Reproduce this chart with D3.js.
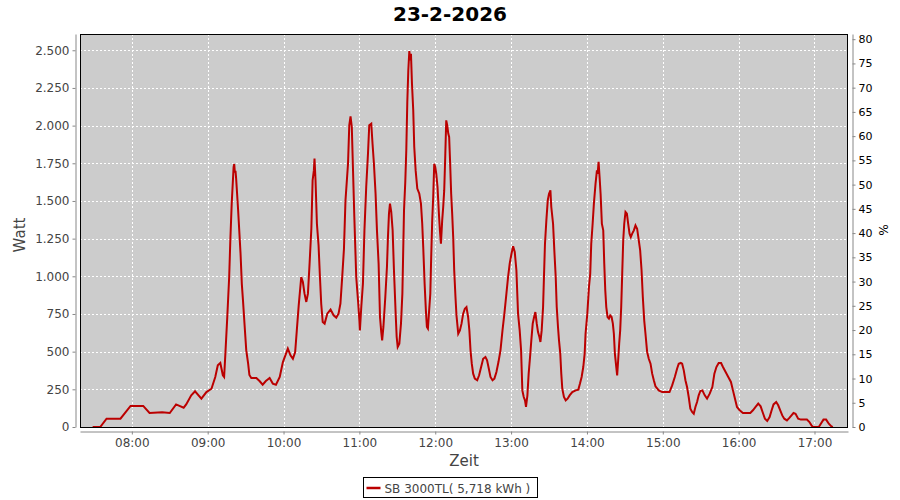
<!DOCTYPE html>
<html>
<head>
<meta charset="utf-8">
<script src="https://cdn.jsdelivr.net/npm/d3@7"></script>
<style>
  body { margin: 0; background: #fff; }
  svg { display: block; font-family: "DejaVu Sans", sans-serif; }
</style>
</head>
<body>
<svg id="chart" width="900" height="500"></svg>
<script>
// ---------- data ----------

const chartTitle = "23-2-2026";
const seriesName = "SB 3000TL( 5,718 kWh )";

// readings (time of day, watt)
const times = [
  "07:29:00", "07:35:00", "07:40:00", "07:51:00", "07:59:00", "08:09:00", "08:14:00", "08:24:00",
  "08:30:00", "08:35:00", "08:41:00", "08:43:00", "08:47:00", "08:50:00", "08:55:00", "08:59:00",
  "09:03:00", "09:06:00", "09:08:00", "09:10:00", "09:12:00", "09:13:00", "09:14:00", "09:15:30",
  "09:17:00", "09:18:00", "09:19:00", "09:20:30", "09:21:00", "09:21:30", "09:22:00", "09:22:30",
  "09:24:00", "09:25:00", "09:26:00", "09:27:00", "09:28:00", "09:29:00", "09:30:30", "09:32:00",
  "09:33:00", "09:34:30", "09:38:30", "09:41:00", "09:43:30", "09:46:00", "09:49:00", "09:51:30",
  "09:54:00", "09:57:00", "09:59:30", "10:03:24", "10:05:30", "10:07:24", "10:09:12", "10:10:30",
  "10:12:00", "10:14:00", "10:15:18", "10:16:36", "10:18:00", "10:19:18", "10:20:36", "10:22:00",
  "10:23:00", "10:24:00", "10:24:30", "10:25:18", "10:26:24", "10:27:42", "10:28:48", "10:29:48",
  "10:31:00", "10:32:30", "10:34:36", "10:37:12", "10:39:36", "10:41:42", "10:43:30", "10:45:00",
  "10:46:24", "10:47:48", "10:49:00", "10:51:00", "10:52:00", "10:53:00", "10:54:00", "10:55:00",
  "10:56:00", "10:57:30", "10:59:00", "11:00:00", "11:00:24", "11:01:30", "11:02:48", "11:04:00",
  "11:05:24", "11:06:48", "11:07:48", "11:09:24", "11:10:24", "11:11:30", "11:12:48", "11:13:54",
  "11:15:12", "11:16:18", "11:17:18", "11:18:00", "11:19:00", "11:20:30", "11:21:48", "11:22:36",
  "11:23:24", "11:24:12", "11:25:12", "11:26:18", "11:27:18", "11:28:42", "11:29:30", "11:30:18",
  "11:31:36", "11:32:54", "11:34:00", "11:35:18", "11:36:18", "11:37:06", "11:37:54", "11:38:42",
  "11:39:30", "11:40:18", "11:40:48", "11:41:36", "11:42:36", "11:43:24", "11:44:30", "11:45:48",
  "11:47:24", "11:48:42", "11:49:42", "11:50:30", "11:51:36", "11:52:36", "11:53:24", "11:54:12",
  "11:55:00", "11:56:06", "11:56:48", "11:57:36", "11:58:24", "11:59:12", "12:00:00", "12:00:48",
  "12:01:48", "12:02:54", "12:03:42", "12:04:30", "12:05:30", "12:06:18", "12:07:06", "12:07:54",
  "12:08:42", "12:09:30", "12:10:18", "12:11:00", "12:11:48", "12:12:36", "12:13:24", "12:14:12",
  "12:15:00", "12:16:00", "12:16:48", "12:18:12", "12:19:30", "12:20:48", "12:22:06", "12:23:24",
  "12:24:42", "12:26:00", "12:27:00", "12:27:54", "12:28:54", "12:30:00", "12:31:18", "12:33:12",
  "12:34:42", "12:36:18", "12:37:54", "12:39:42", "12:41:00", "12:42:24", "12:43:42", "12:45:18",
  "12:46:48", "12:48:24", "12:50:00", "12:51:36", "12:53:12", "12:54:42", "12:56:18", "12:57:36",
  "12:58:54", "13:00:18", "13:01:36", "13:02:54", "13:04:12", "13:05:30", "13:06:48", "13:07:54",
  "13:08:54", "13:10:00", "13:11:00", "13:11:48", "13:12:54", "13:13:54", "13:15:00", "13:16:00",
  "13:17:06", "13:18:12", "13:19:12", "13:20:18", "13:21:18", "13:22:24", "13:23:12", "13:24:12",
  "13:25:18", "13:26:00", "13:26:48", "13:27:54", "13:29:00", "13:30:00", "13:31:06", "13:31:48",
  "13:33:12", "13:34:12", "13:35:18", "13:36:06", "13:37:06", "13:37:54", "13:38:54", "13:39:42",
  "13:40:30", "13:41:48", "13:43:12", "13:44:42", "13:46:18", "13:48:24", "13:51:06", "13:53:12",
  "13:54:30", "13:55:48", "13:57:06", "13:58:12", "13:58:54", "14:00:18", "14:01:36", "14:02:36",
  "14:03:24", "14:04:30", "14:05:30", "14:06:48", "14:07:54", "14:08:30", "14:09:12", "14:10:00",
  "14:10:48", "14:11:48", "14:12:54", "14:13:42", "14:14:30", "14:15:18", "14:16:18", "14:17:24",
  "14:18:24", "14:19:30", "14:20:30", "14:21:18", "14:22:06", "14:23:12", "14:23:54", "14:24:42",
  "14:25:30", "14:26:18", "14:27:06", "14:27:54", "14:28:42", "14:29:30", "14:30:30", "14:31:36",
  "14:32:36", "14:33:42", "14:34:42", "14:35:48", "14:37:06", "14:38:24", "14:39:42", "14:41:00",
  "14:42:06", "14:43:12", "14:44:12", "14:45:18", "14:46:18", "14:47:36", "14:48:54", "14:50:18",
  "14:51:36", "14:52:54", "14:54:12", "14:56:48", "14:59:30", "15:05:18", "15:07:24", "15:09:30",
  "15:11:18", "15:12:36", "15:14:12", "15:15:18", "15:16:36", "15:17:54", "15:19:12", "15:20:30",
  "15:21:48", "15:23:12", "15:24:30", "15:25:48", "15:27:06", "15:28:24", "15:29:42", "15:31:18",
  "15:33:12", "15:35:00", "15:37:06", "15:39:12", "15:40:48", "15:42:24", "15:44:12", "15:46:06",
  "15:47:36", "15:49:42", "15:51:48", "15:53:54", "15:55:30", "15:57:06", "15:58:42", "16:00:48",
  "16:03:24", "16:09:12", "16:11:18", "16:13:24", "16:15:30", "16:17:24", "16:19:12", "16:20:48",
  "16:22:36", "16:24:30", "16:26:06", "16:27:36", "16:29:42", "16:31:18", "16:32:54", "16:34:30",
  "16:36:06", "16:38:12", "16:40:18", "16:41:48", "16:43:24", "16:45:00", "16:47:06", "16:49:12",
  "16:54:00", "16:56:00", "16:57:36", "16:58:42", "17:03:24", "17:05:00", "17:07:06", "17:09:12",
  "17:11:18", "17:13:24", "17:14:30"
];

const watts = [
  0, 0, 55, 55, 140, 140, 93, 98,
  93, 150, 128, 150, 210, 237, 188, 232,
  254, 332, 409, 425, 343, 332, 487, 730,
  995, 1261, 1482, 1725, 1745, 1690, 1700, 1650,
  1450, 1300, 1150, 950, 830, 700, 510, 420,
  345, 325, 325, 305, 281, 305, 325, 288,
  281, 332, 431, 520, 476, 453, 498, 641,
  807, 995, 962, 885, 830, 885, 1084, 1316,
  1637, 1703, 1781, 1637, 1349, 1206, 995, 818,
  697, 686, 752, 779, 741, 726, 752, 818,
  995, 1183, 1504, 1747, 2002, 2062, 1991, 1692,
  1394, 995, 830, 708, 641, 796, 951, 1305,
  1593, 1814, 2002, 2013, 1880, 1747, 1548, 1305,
  1084, 730, 630, 575, 664, 863, 1062, 1261,
  1416, 1482, 1427, 1305, 1050, 752, 597, 531,
  553, 686, 885, 1438, 1626, 1836, 2157, 2367,
  2495, 2433, 2477, 2278, 2101, 1858, 1703, 1582,
  1548, 1482, 1349, 1194, 951, 774, 664, 653,
  752, 885, 1128, 1371, 1526, 1747, 1725, 1681,
  1593, 1416, 1305, 1216, 1371, 1460, 1570, 1792,
  2035, 2002, 1947, 1925, 1747, 1548, 1416, 1261,
  1040, 863, 741, 619, 641, 686, 752, 785,
  796, 730, 641, 509, 420, 354, 321, 310,
  343, 398, 453, 465, 443, 387, 332, 310,
  321, 365, 431, 509, 641, 752, 885, 995,
  1084, 1150, 1199, 1161, 1040, 752, 641, 509,
  243, 199, 177, 133, 210, 354, 465, 575,
  686, 730, 763, 686, 630, 597, 564, 641,
  796, 995, 1216, 1371, 1504, 1548, 1570, 1460,
  1349, 1172, 995, 796, 664, 575, 487, 354,
  254, 199, 177, 188, 210, 232, 243, 248,
  288, 332, 398, 487, 619, 752, 929, 1018,
  1216, 1349, 1482, 1615, 1703, 1681, 1759, 1659,
  1548, 1349, 1305, 1084, 907, 796, 730, 719,
  741, 730, 686, 619, 487, 398, 343, 443,
  553, 641, 796, 1018, 1239, 1349, 1427, 1416,
  1349, 1283, 1261, 1283, 1305, 1338, 1316, 1239,
  1172, 1040, 863, 708, 619, 498, 453, 420,
  354, 310, 270, 243, 232, 232, 276, 332,
  387, 420, 425, 420, 376, 310, 265, 199,
  122, 100, 88, 133, 166, 210, 239, 243,
  210, 188, 221, 265, 354, 398, 425, 425,
  398, 365, 332, 299, 243, 188, 133, 111,
  93, 93, 111, 133, 155, 137, 93, 55,
  40, 66, 111, 150, 166, 144, 111, 77,
  55, 44, 62, 77, 93, 88, 55, 49,
  49, 33, 11, 0, 0, 22, 49, 49,
  22, 4, 0
];

const timeRange = ["07:19:00", "17:26:30"];
const hourTicks = ["08:00", "09:00", "10:00", "11:00", "12:00", "13:00", "14:00", "15:00", "16:00", "17:00"];
const wattTicks = [0, 250, 500, 750, 1000, 1250, 1500, 1750, 2000, 2250, 2500];
const percentTicks = [0, 5, 10, 15, 20, 25, 30, 35, 40, 45, 50, 55, 60, 65, 70, 75, 80];
const wattMax = 2608;
const percentMax = 81.07;

// ---------- layout ----------

const plot = { left: 80, right: 848, top: 34, bottom: 427 };
const lineColor = "#bb0000";
const textColor = "#444444";

const parseTime = d3.timeParse("%H:%M:%S");
const parseHour = d3.timeParse("%H:%M");
const deLocale = d3.formatLocale({ decimal: ",", thousands: ".", grouping: [3], currency: ["", " €"] });
const fmtWatt = deLocale.format(",");

const data = times.map((t, i) => ({ date: parseTime(t), watt: watts[i] }));

const x = d3.scaleTime()
  .domain(timeRange.map(parseTime))
  .range([plot.left, plot.right]);

const y = d3.scaleLinear()
  .domain([0, wattMax])
  .range([plot.bottom, plot.top]);

const yPct = d3.scaleLinear()
  .domain([0, percentMax])
  .range([plot.bottom, plot.top]);

const svg = d3.select("#chart");

// title
svg.append("text")
  .attr("x", 450)
  .attr("y", 21)
  .attr("text-anchor", "middle")
  .attr("font-family", "'DejaVu Sans', sans-serif")
  .attr("font-weight", "bold")
  .attr("font-size", 20)
  .attr("fill", "#000")
  .text(chartTitle);

// plot background
svg.append("rect")
  .attr("x", plot.left)
  .attr("y", plot.top)
  .attr("width", plot.right - plot.left)
  .attr("height", plot.bottom - plot.top)
  .attr("fill", "#cccccc");

// gridlines
const grid = svg.append("g")
  .attr("stroke", "#ffffff")
  .attr("stroke-width", 1)
  .attr("stroke-dasharray", "2,2");

grid.selectAll("line.h")
  .data(wattTicks.filter((d) => d > 0))
  .join("line")
  .attr("class", "h")
  .attr("x1", plot.left)
  .attr("x2", plot.right)
  .attr("y1", (d) => Math.round(y(d)) + 0.5)
  .attr("y2", (d) => Math.round(y(d)) + 0.5);

grid.selectAll("line.v")
  .data(hourTicks.map(parseHour))
  .join("line")
  .attr("class", "v")
  .attr("x1", (d) => Math.round(x(d)) + 0.5)
  .attr("x2", (d) => Math.round(x(d)) + 0.5)
  .attr("y1", plot.top)
  .attr("y2", plot.bottom);

// series
const clipId = "plot-clip";
svg.append("clipPath")
  .attr("id", clipId)
  .append("rect")
  .attr("x", plot.left)
  .attr("y", plot.top)
  .attr("width", plot.right - plot.left)
  .attr("height", plot.bottom - plot.top);

svg.append("path")
  .datum(data)
  .attr("clip-path", `url(#${clipId})`)
  .attr("fill", "none")
  .attr("stroke", lineColor)
  .attr("stroke-width", 2)
  .attr("stroke-linejoin", "miter")
  .attr("d", d3.line().x((d) => x(d.date)).y((d) => y(d.watt)));

// plot border
svg.append("rect")
  .attr("x", plot.left + 0.5)
  .attr("y", plot.top + 0.5)
  .attr("width", plot.right - plot.left - 1)
  .attr("height", plot.bottom - plot.top)
  .attr("fill", "none")
  .attr("stroke", "#000")
  .attr("stroke-width", 1);

// ---------- axes ----------

function styleAxis(g) {
  g.select(".domain").attr("stroke", "#888888");
  g.selectAll(".tick line").attr("stroke", "#888888");
  g.selectAll(".tick text")
    .attr("fill", textColor)
    .attr("font-family", "'DejaVu Sans', sans-serif")
    .attr("font-size", 12);
}

// left (watt)
svg.append("g")
  .attr("transform", `translate(${plot.left - 4.5},0)`)
  .call(d3.axisLeft(y).tickValues(wattTicks).tickFormat(fmtWatt).tickSizeInner(3).tickSizeOuter(0).tickPadding(3))
  .call(styleAxis);

// right (percent)
svg.append("g")
  .attr("transform", `translate(${plot.right + 4.5},0)`)
  .call(d3.axisRight(yPct).tickValues(percentTicks).tickSizeInner(3).tickSizeOuter(0).tickPadding(3))
  .call(styleAxis)
  .call((g) => g.selectAll(".tick text").attr("fill", "#000").attr("font-size", 11));

// bottom (time)
svg.append("g")
  .attr("transform", `translate(0,${plot.bottom + 4.5})`)
  .call(d3.axisBottom(x).tickValues(hourTicks.map(parseHour)).tickFormat(d3.timeFormat("%H:%M")).tickSizeInner(3).tickSizeOuter(0).tickPadding(4))
  .call(styleAxis);

// axis labels
svg.append("text")
  .attr("transform", "translate(25,235) rotate(-90)")
  .attr("text-anchor", "middle")
  .attr("fill", textColor)
  .attr("font-size", 15)
  .text("Watt");

svg.append("text")
  .attr("transform", "translate(879,230) rotate(90)")
  .attr("text-anchor", "middle")
  .attr("fill", "#000")
  .attr("font-size", 12)
  .text("%");

svg.append("text")
  .attr("x", 464)
  .attr("y", 466)
  .attr("text-anchor", "middle")
  .attr("fill", textColor)
  .attr("font-size", 15)
  .text("Zeit");

// ---------- legend ----------

const legend = svg.append("g").attr("transform", "translate(363.5,477.5)");
legend.append("rect")
  .attr("width", 174)
  .attr("height", 20)
  .attr("fill", "#fff")
  .attr("stroke", "#000");
legend.append("line")
  .attr("x1", 3).attr("x2", 17)
  .attr("y1", 10.5).attr("y2", 10.5)
  .attr("stroke", lineColor)
  .attr("stroke-width", 2.5);
legend.append("text")
  .attr("x", 21)
  .attr("y", 15)
  .attr("fill", textColor)
  .attr("font-size", 12)
  .text(seriesName);
</script>
</body>
</html>
